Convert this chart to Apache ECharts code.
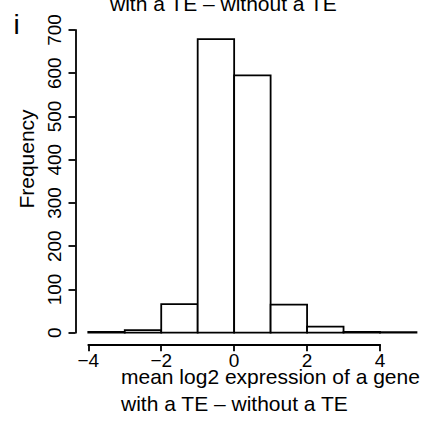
<!DOCTYPE html>
<html>
<head>
<meta charset="utf-8">
<script src="https://cdn.jsdelivr.net/npm/echarts@6/dist/echarts.min.js"></script>
<style>
html,body{margin:0;padding:0;background:#fff;overflow:hidden;}
#chart{width:445px;height:424px;}
</style>
</head>
<body>
<div id="chart"></div>
<script>
// Histogram data: bin edges and frequencies
var binStarts = [-4, -3, -2, -1, 0, 1, 2, 3, 4];
var binEnds   = [-3, -2, -1, 0, 1, 2, 3, 4, 5];
var counts    = [2, 6, 66, 679, 595, 65, 14, 2, 1];

// Axis ticks and labels
var xTickValues = [-4, -2, 0, 2, 4];
var xTickLabels = ['\u22124', '\u22122', '0', '2', '4'];
var yTickValues = [0, 100, 200, 300, 400, 500, 600, 700];
var yTickLabels = ['0', '100', '200', '300', '400', '500', '600', '700'];

// Text
var panelLetter = 'i';
var titleLine2 = 'with a TE \u2013 without a TE';
var xLabelLines = ['mean log2 expression of a gene', 'with a TE \u2013 without a TE'];
var yLabel = 'Frequency';

var FONT = '"Liberation Sans", Arial, Helvetica, sans-serif';
var histData = binStarts.map(function (s, i) { return [s, binEnds[i], counts[i]]; });
var chart = echarts.init(document.getElementById('chart'), null, {renderer: 'svg'});

function lookup(values, labels, v) {
  for (var i = 0; i < values.length; i++) if (Math.abs(values[i] - v) < 1e-9) return labels[i];
  return '';
}
function ttl(text, left, top, size) {
  return {text: text, left: left, top: top, padding: 0, itemGap: 0,
    textStyle: {fontFamily: FONT, fontSize: size, fontWeight: 'normal', color: '#000', lineHeight: size}};
}

chart.setOption({
  backgroundColor: '#ffffff',
  animation: false,
  title: [
    ttl(panelLetter, 13.4, 10, 28),
    ttl(titleLine2, 110, -7.5, 21),
    ttl(xLabelLines[0], 121, 365.7, 21),
    ttl(xLabelLines[1], 121, 393, 21)
  ],
  grid: {left: 88.3, right: 65, top: 30, bottom: 91.3},
  xAxis: {
    type: 'value', min: -4, max: 4, interval: 2, offset: 11.6,
    splitLine: {show: false},
    axisLine: {show: true, onZero: false, lineStyle: {color: '#000', width: 1.8}},
    axisTick: {show: true, length: 7, lineStyle: {color: '#000', width: 1.8}},
    axisLabel: {margin: 7, color: '#000', fontFamily: FONT, fontSize: 19,
      formatter: function (v) { return lookup(xTickValues, xTickLabels, v); }}
  },
  yAxis: {
    type: 'value', min: 0, max: 700, interval: 100, offset: 12.8,
    name: yLabel, nameLocation: 'middle', nameRotate: 90, nameGap: 37.5,
    nameTextStyle: {fontFamily: FONT, fontSize: 21, color: '#000', lineHeight: 21, padding: [0, 0, 0, 44.7]},
    splitLine: {show: false},
    axisLine: {show: true, onZero: false, lineStyle: {color: '#000', width: 1.8}},
    axisTick: {show: true, length: 7, lineStyle: {color: '#000', width: 1.8}},
    axisLabel: {rotate: 90, margin: 11.5, color: '#000', fontFamily: FONT, fontSize: 19,
      formatter: function (v) { return lookup(yTickValues, yTickLabels, v); }}
  },
  series: [{
    type: 'custom', clip: false, data: histData,
    renderItem: function (params, api) {
      var p0 = api.coord([api.value(0), api.value(2)]);
      var p1 = api.coord([api.value(1), 0]);
      return {type: 'rect', shape: {x: p0[0], y: p0[1], width: p1[0] - p0[0], height: p1[1] - p0[1]},
        style: {fill: '#ffffff', stroke: '#000000', lineWidth: 1.8}};
    }
  }]
});
</script>
</body>
</html>
